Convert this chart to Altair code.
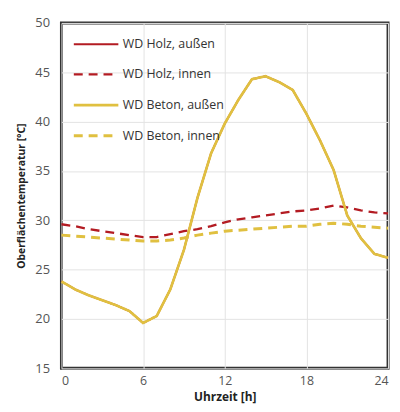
import altair as alt
import pandas as pd

hours = list(range(25))
holz_aussen = [23.8, 23.0, 22.4, 21.9, 21.4, 20.8, 19.6, 20.3, 23.0, 27.0, 32.3, 36.8, 39.8,
               42.2, 44.3, 44.6, 44.0, 43.2, 40.8, 38.1, 35.1, 30.5, 28.2, 26.6, 26.2]
holz_innen = [29.6, 29.4, 29.1, 28.9, 28.7, 28.5, 28.3, 28.3, 28.6, 28.9, 29.1, 29.4, 29.8,
              30.1, 30.3, 30.5, 30.7, 30.9, 31.0, 31.2, 31.5, 31.3, 31.0, 30.8, 30.7]
beton_aussen = [23.8, 23.0, 22.4, 21.9, 21.4, 20.8, 19.6, 20.3, 23.0, 27.0, 32.3, 36.8, 39.8,
                42.2, 44.3, 44.6, 44.0, 43.2, 40.8, 38.1, 35.1, 30.5, 28.2, 26.6, 26.2]
beton_innen = [28.5, 28.4, 28.3, 28.2, 28.1, 28.0, 27.9, 27.9, 28.0, 28.2, 28.5, 28.7, 28.9,
               29.0, 29.1, 29.2, 29.3, 29.4, 29.4, 29.6, 29.7, 29.6, 29.4, 29.3, 29.2]

series_names = ["WD Holz, außen", "WD Holz, innen", "WD Beton, außen", "WD Beton, innen"]
series_values = [holz_aussen, holz_innen, beton_aussen, beton_innen]
colors = ["#b31b22", "#b31b22", "#e0c040", "#e0c040"]
dashes = [[1, 0], [9, 6], [1, 0], [9, 6]]
widths = [2, 3, 3.5, 3]

rows = []
for name, vals in zip(series_names, series_values):
    for h, v in zip(hours, vals):
        rows.append({"h": h, "t": v, "s": name})
df = pd.DataFrame(rows)

font = "Open Sans"

leg = dict(title=None, orient="none", legendX=11, legendY=-2,
           symbolType="stroke", symbolSize=2025, symbolStrokeWidth=3,
           labelFont=font, labelFontSize=12.5, labelColor="#333",
           labelOffset=3, rowPadding=-1)

chart = alt.Chart(df).mark_line(strokeCap="butt").encode(
    x=alt.X("h:Q", scale=alt.Scale(domain=[0, 24], nice=False),
            axis=alt.Axis(values=[0, 6, 12, 18, 24], title="Uhrzeit [h]", grid=True,
                          ticks=False, domain=False, labelPadding=6, titlePadding=5,
                          labelFontSize=12.5, titleFontSize=12)),
    y=alt.Y("t:Q", scale=alt.Scale(domain=[15, 50], nice=False),
            axis=alt.Axis(values=[15, 20, 25, 30, 35, 40, 45, 50], title="Oberflächentemperatur [°C]",
                          grid=True, ticks=False, domain=False, labelPadding=12, titlePadding=8,
                          titleFontSize=10.5)),
    color=alt.Color("s:N", scale=alt.Scale(domain=series_names, range=colors),
                    legend=alt.Legend(**leg)),
    strokeDash=alt.StrokeDash("s:N", scale=alt.Scale(domain=series_names, range=dashes),
                              legend=alt.Legend(**leg)),
    strokeWidth=alt.StrokeWidth("s:N", scale=alt.Scale(domain=series_names, range=widths), legend=None),
).properties(
    width=330, height=349,
    autosize=alt.AutoSizeParams(type="none"),
    padding={"left": 54, "top": 13, "right": 4, "bottom": 40},
).configure_view(
    stroke="#333", strokeWidth=3
).configure_axis(
    gridColor="#e3e3e3", gridWidth=1,
    labelFont=font, labelFontSize=13, labelColor="#555",
    titleFont=font, titleFontWeight="bold", titleColor="#222",
)

chart.save("out.html", embed_options={"renderer": "svg", "actions": False})
